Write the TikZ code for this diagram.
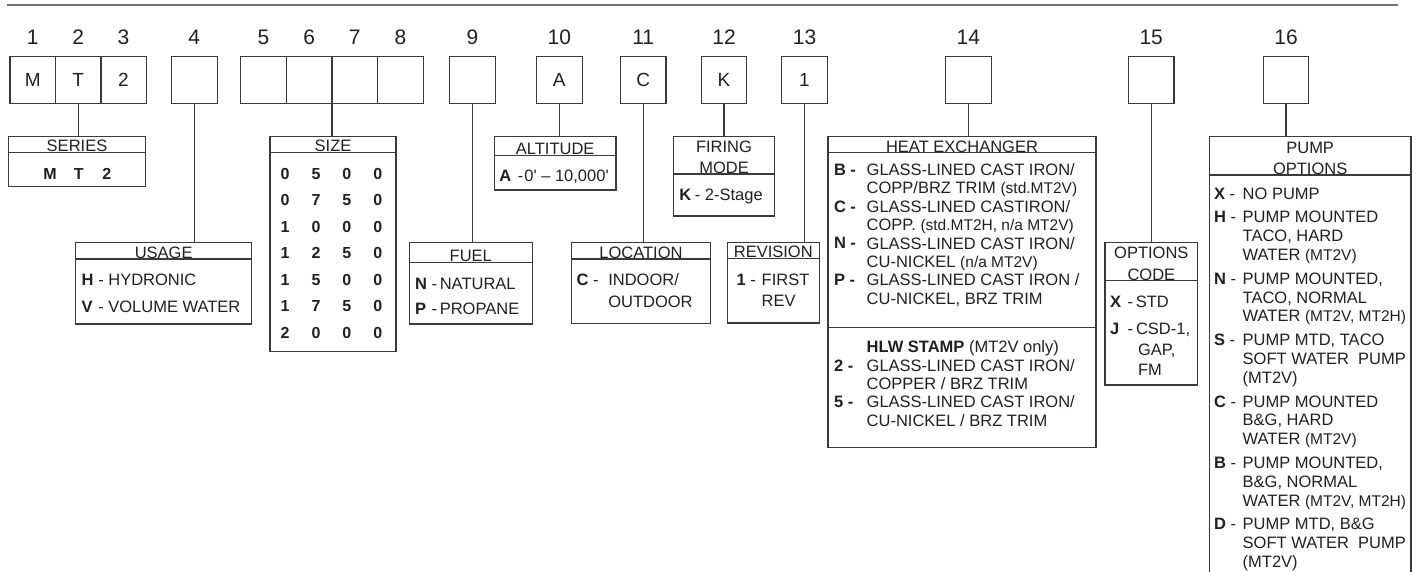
\documentclass[tikz,border=0pt]{standalone}
\usepackage{fontspec}
\setmainfont{Liberation Sans}
\definecolor{linec}{HTML}{3A3A3A}
\definecolor{textc}{HTML}{231F20}
\definecolor{rulec}{HTML}{707070}
\newcommand{\bodyfont}{\fontsize{16.5}{18.4}\selectfont}
\newcommand{\paren}[1]{{\fontsize{15.5}{18}\selectfont #1}}
\newcommand{\opt}[2][12pt]{\makebox[#1][l]{\textbf{#2}}}
\begin{document}
\begin{tikzpicture}[x=1pt, y=-1pt,
                    every node/.style={text=textc, inner sep=0pt, outer sep=0pt},
                    codebox/.style={draw=linec, line width=1.2pt, minimum width=45.6pt, minimum height=46.6pt, font=\fontsize{19}{20}\selectfont},
                    posnum/.style={font=\fontsize{21}{24}\selectfont},
                    panel/.style={draw=linec, line width=1.2pt, anchor=north west},
                    rule/.style={draw=linec, line width=1.2pt},
                    link/.style={draw=linec, line width=1.2pt},
                    head/.style={anchor=base, font=\bodyfont},
                    entry/.style={anchor=base west, align=left, font=\bodyfont},
                    pumpline/.style={entry, font=\fontsize{16.5}{18.8}\selectfont},
                    digit/.style={anchor=base, font=\fontsize{16}{18}\selectfont\bfseries}
                    ]
                    \useasboundingbox (0,0) rectangle (1418,571);
                    \draw[rulec, line width=1.5pt] (7,5) -- (1398,5);

                    % code positions
                    \foreach \n/\x/\t in {1/32.7/M, 2/78.2/T, 3/123.5/2, 4/194.3/, 5/263.5/, 6/309.2/, 7/354.8/, 8/400.5/,
                                          9/472.5/, 10/559.3/A, 11/643.2/C, 12/724/K, 13/804.5/1, 14/968.3/, 15/1151.2/, 16/1286/}{
                        \node[codebox] (c\n) at (\x,80) {\t};
                        \node[posnum] (n\n) at (\x,37) {\n};
                    }

                    % panels
                    \node[panel, minimum width=137.4pt, minimum height=50pt] (series) at (8.3,136.7) {};
                    \node[panel, minimum width=176pt, minimum height=81.3pt] (usage) at (75.7,242.7) {};
                    \node[panel, minimum width=126pt, minimum height=215pt] (size) at (270,136.7) {};
                    \node[panel, minimum width=123pt, minimum height=81.3pt] (fuel) at (409.3,242.7) {};
                    \node[panel, minimum width=121.7pt, minimum height=53.3pt] (altitude) at (494.3,136.7) {};
                    \node[panel, minimum width=138.6pt, minimum height=80.6pt] (location) at (571.7,242.7) {};
                    \node[panel, minimum width=101.4pt, minimum height=79.3pt] (firing) at (673.3,136.7) {};
                    \node[panel, minimum width=92pt, minimum height=80.3pt] (revision) at (727.3,242.7) {};
                    \node[panel, minimum width=268pt, minimum height=311pt] (heat) at (828,136.7) {};
                    \node[panel, minimum width=92.7pt, minimum height=142.3pt] (options) at (1105,242.7) {};
                    \node[panel, minimum width=201.7pt, minimum height=440pt] (pump) at (1209.3,136.7) {};

                    \foreach \p/\y/\t in {series/152.3/SERIES, usage/259/USAGE, size/152.3/SIZE, fuel/262.3/FUEL,
                                          altitude/155.3/ALTITUDE, location/259/LOCATION, revision/258.3/REVISION,
                                          heat/152.7/HEAT EXCHANGER, firing/174/MODE, options/280.7/CODE, pump/175/OPTIONS}{
                        \draw[rule] (\p.west |- 0,\y) -- (\p.east |- 0,\y);
                        \node[head] (\p-h) at (\p.center |- 0,\y-0.6) {\t};
                    }
                    \node[head] (firing-t) at (firing.center |- 0,152) {FIRING};
                    \node[head] (options-t) at (options.center |- 0,258.3) {OPTIONS};
                    \node[head] (pump-t) at (pump.center |- 0,153.6) {PUMP};

                    \draw[link] (c6.south east) -- (c6.south east |- size.north);
                    \foreach \a/\b in {c2/series, c4/usage, c9/fuel, c10/altitude, c11/location,
                                       c12/firing, c13/revision, c14/heat, c15/options, c16/pump}{
                        \draw[link] (\a.south) -- (\a.south |- \b.north);
                    }

                    % series and size
                    \foreach \x/\t in {50/M, 78.7/T, 106.7/2}{
                        \node[digit] (s\t) at (\x,179) {\t};
                    }
                    \foreach \a/\b/\c/\d [count=\i] in {0/5/0/0, 0/7/5/0, 1/0/0/0, 1/2/5/0, 1/5/0/0, 1/7/5/0, 2/0/0/0}{
                        \pgfmathsetmacro{\yy}{152.5+26.5*\i}
                        \node[digit] (z\i-1) at (285,\yy) {\a};
                        \node[digit] (z\i-2) at (316,\yy) {\b};
                        \node[digit] (z\i-3) at (346.7,\yy) {\c};
                        \node[digit] (z\i-4) at (377.7,\yy) {\d};
                    }

                    % small panels (multi-line texts sit on their last line)
                    \node[entry] (usage-h) at (81.7,285) {\opt{H} - HYDRONIC};
                    \node[entry] (usage-v) at (81.7,312) {\opt{V} - VOLUME WATER};
                    \node[entry] (fuel-n) at (415,289.2) {\opt{N} -\,NATURAL};
                    \node[entry] (fuel-p) at (415,314.2) {\opt{P} -\,PROPANE};
                    \node[entry] (alt-a) at (499.3,181.6) {\opt[14pt]{A} -\kern1pt 0\textquotesingle{} -- 10,000\textquotesingle};
                    \node[entry] (loc-c) at (576.7,285.3) {\textbf{C} -};
                    \node[entry] (loc-d) at (608.3,307) {INDOOR/\\[3.3pt]OUTDOOR};
                    \node[entry] (fir-k) at (679.3,200) {\opt[11pt]{K} - 2-Stage};
                    \node[entry] (rev-1) at (736.7,285.3) {\textbf{1} -};
                    \node[entry] (rev-d) at (761.7,306) {FIRST\\[2.3pt]REV};
                    \node[entry] (opt-x) at (1110,307.6) {\opt[13pt]{X} -\,STD};
                    \node[entry] (opt-j) at (1110,334.3) {\opt[13pt]{J} -};
                    \node[entry] (opt-jd) at (1136,375.3) {CSD-1,\\[2.3pt]\hspace*{2pt}GAP,\\[1.6pt]\hspace*{2pt}FM};

                    % heat exchanger
                    \node[entry] (hx-b) at (834,175.2) {\textbf{B -}};
                    \node[entry] (hx-bd) at (866.7,193.6) {GLASS-LINED CAST IRON/\\COPP/BRZ TRIM \paren{(std.MT2V)}};
                    \node[entry] (hx-c) at (834,212.1) {\textbf{C -}};
                    \node[entry] (hx-cd) at (866.7,230.5) {GLASS-LINED CASTIRON/\\COPP. \paren{(std.MT2H, n/a MT2V)}};
                    \node[entry] (hx-n) at (834,248.9) {\textbf{N -}};
                    \node[entry] (hx-nd) at (866.7,267.4) {GLASS-LINED CAST IRON/\\CU-NICKEL \paren{(n/a MT2V)}};
                    \node[entry] (hx-p) at (834,285.8) {\textbf{P -}};
                    \node[entry] (hx-pd) at (866.7,304.2) {GLASS-LINED CAST IRON /\\CU-NICKEL, BRZ TRIM};
                    \draw[rule] (heat.west |- 0,327.3) -- (heat.east |- 0,327.3);
                    \node[entry] (hx-hlw) at (866.7,352.6) {\textbf{HLW STAMP} (MT2V only)};
                    \node[entry] (hx-2) at (834,371) {\textbf{2 -}};
                    \node[entry] (hx-2d) at (866.7,389.4) {GLASS-LINED CAST IRON/\\COPPER / BRZ TRIM};
                    \node[entry] (hx-5) at (834,407.7) {\textbf{5 -}};
                    \node[entry] (hx-5d) at (866.7,426.1) {GLASS-LINED CAST IRON/\\CU-NICKEL / BRZ TRIM};

                    % pump options
                    \node[pumpline] (pm-x) at (1214,199.2) {\textbf{X} -};
                    \node[pumpline] (pm-xd) at (1242.7,199.2) {NO PUMP};
                    \node[pumpline] (pm-h) at (1214,222.6) {\textbf{H} -};
                    \node[pumpline] (pm-hd) at (1242.7,260.2) {PUMP MOUNTED\\TACO, HARD\\WATER \paren{(MT2V)}};
                    \node[pumpline] (pm-n) at (1214,284.2) {\textbf{N} -};
                    \node[pumpline] (pm-nd) at (1242.7,321.8) {PUMP MOUNTED,\\TACO, NORMAL\\WATER \paren{(MT2V, MT2H)}};
                    \node[pumpline] (pm-s) at (1214,345.6) {\textbf{S} -};
                    \node[pumpline] (pm-sd) at (1242.7,383.2) {PUMP MTD, TACO\\SOFT WATER~~PUMP\\(MT2V)};
                    \node[pumpline] (pm-c) at (1214,407) {\textbf{C} -};
                    \node[pumpline] (pm-cd) at (1242.7,444.6) {PUMP MOUNTED\\B\&G, HARD\\WATER \paren{(MT2V)}};
                    \node[pumpline] (pm-b) at (1214,468.4) {\textbf{B} -};
                    \node[pumpline] (pm-bd) at (1242.7,506) {PUMP MOUNTED,\\B\&G, NORMAL\\WATER \paren{(MT2V, MT2H)}};
                    \node[pumpline] (pm-d) at (1214,529.4) {\textbf{D} -};
                    \node[pumpline] (pm-dd) at (1242.7,567) {PUMP MTD, B\&G\\SOFT WATER~~PUMP\\(MT2V)};
                \end{tikzpicture}
\end{document}
